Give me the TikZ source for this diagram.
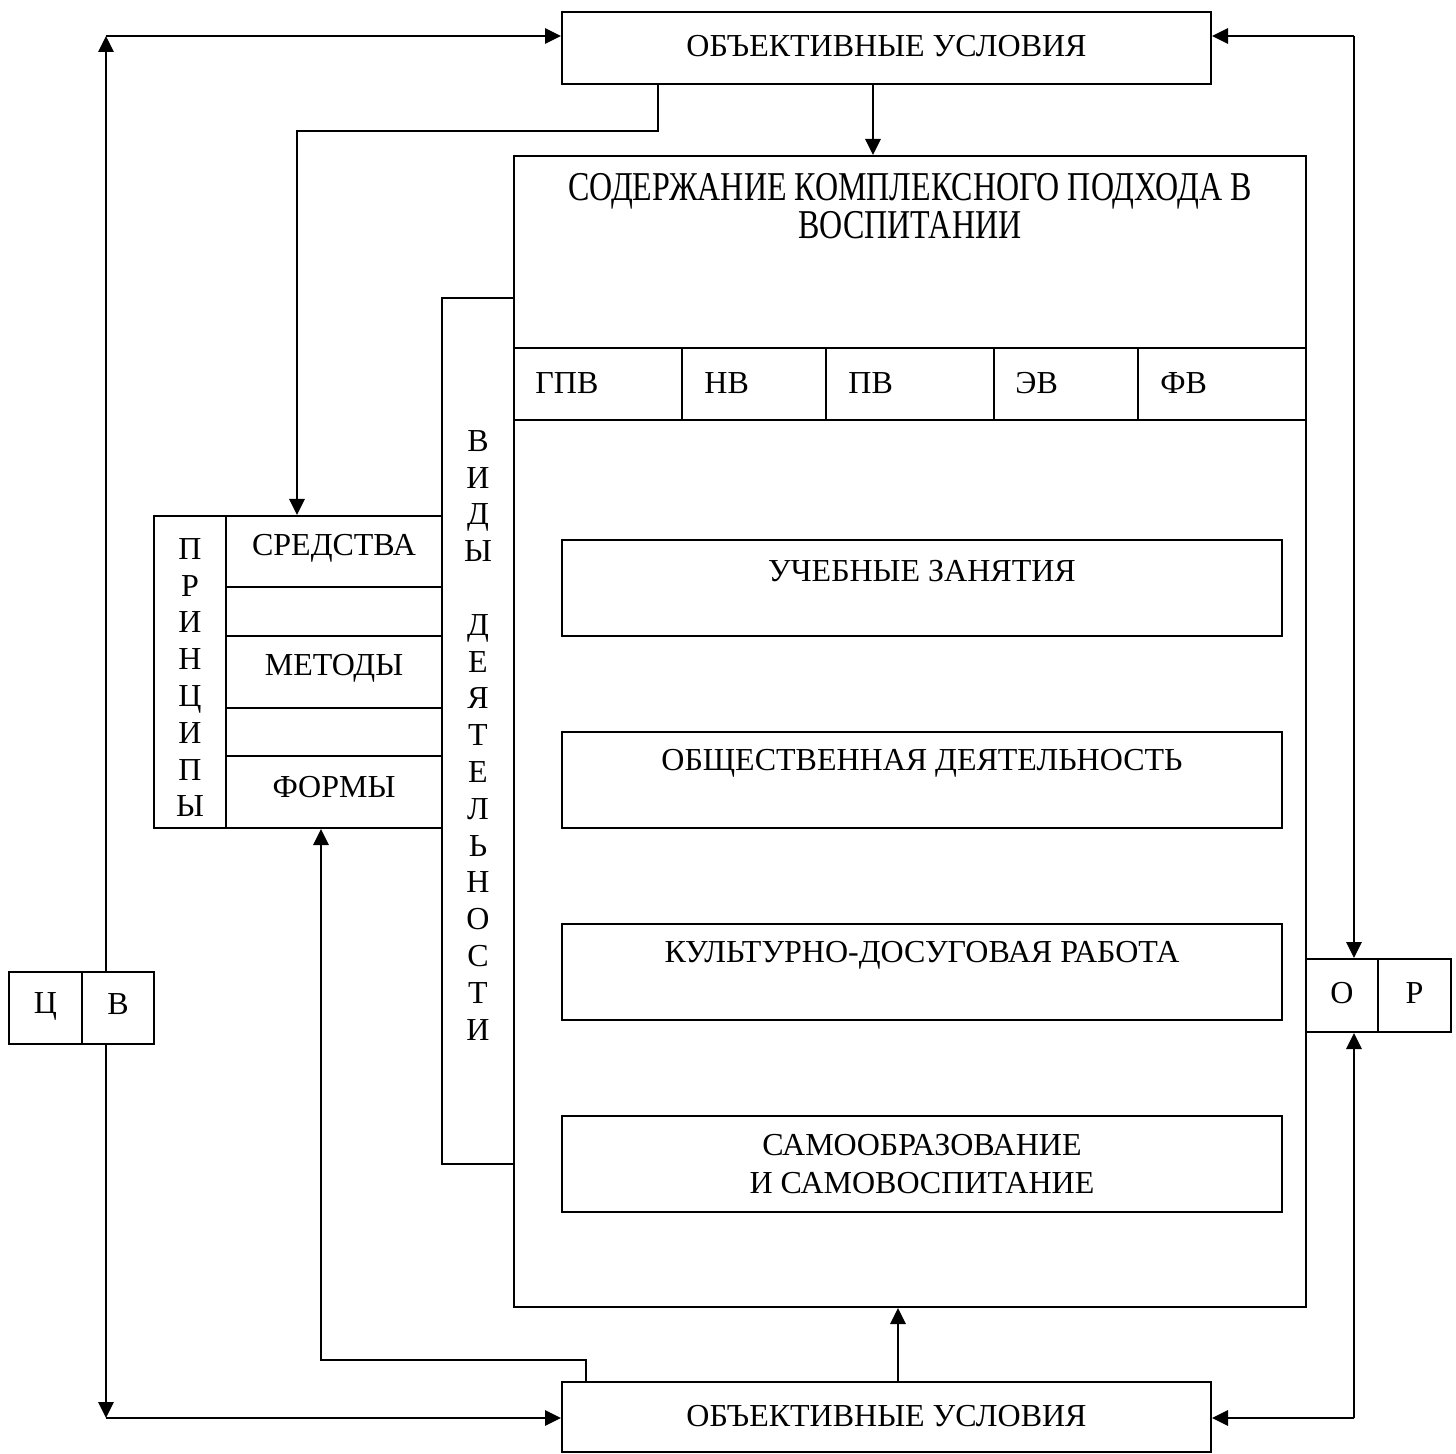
\documentclass[tikz,border=0pt]{standalone}
\usepackage{fontspec}
\usepackage{graphicx}
\setmainfont{Liberation Serif}
\usetikzlibrary{arrows.meta}
\begin{document}
\begin{tikzpicture}[x=0.5pt,y=-0.5pt,
  box/.style={draw,line width=1pt,inner sep=0pt,rectangle},
  txt/.style={inner sep=0pt,font=\fontsize{16}{19}\selectfont},
  vtxt/.style={inner sep=0pt,align=center,anchor=north,font=\fontsize{16}{18.4}\selectfont},
  arr/.style={line width=1.4pt,-{Triangle[length=8pt,width=7.5pt]}}]
\useasboundingbox (0,0) rectangle (1456,1454);

% main boxes
\node[box,minimum width=324.5pt,minimum height=36pt] (top) at (886.5,48) {};
\node[txt] (topt) at (886.5,46) {ОБЪЕКТИВНЫЕ УСЛОВИЯ};
\node[box,minimum width=324.5pt,minimum height=35pt] (bot) at (886.5,1417) {};
\node[txt] (bott) at (886.5,1416) {ОБЪЕКТИВНЫЕ УСЛОВИЯ};

\node[box,minimum width=396pt,minimum height=575.5pt] (big) at (910,731.5) {};
\node[txt] (bigt) at (910,206) {\scalebox{1}[1.28]{\begin{minipage}{370pt}\centering\fontsize{16}{13.7}\selectfont СОДЕРЖАНИЕ КОМПЛЕКСНОГО ПОДХОДА В\\ВОСПИТАНИИ\end{minipage}}};

% row of cells
\node[box,minimum width=84pt,minimum height=36pt] (c1) at (598,384) {};
\node[box,minimum width=72pt,minimum height=36pt] (c2) at (754,384) {};
\node[box,minimum width=84pt,minimum height=36pt] (c3) at (910,384) {};
\node[box,minimum width=72pt,minimum height=36pt] (c4) at (1066,384) {};
\node[box,minimum width=84pt,minimum height=36pt] (c5) at (1222,384) {};
\node[txt,anchor=west] (c1t) at (535,383) {ГПВ};
\node[txt,anchor=west] (c2t) at (704,383) {НВ};
\node[txt,anchor=west] (c3t) at (848,383) {ПВ};
\node[txt,anchor=west] (c4t) at (1015,383) {ЭВ};
\node[txt,anchor=west] (c5t) at (1160,383) {ФВ};

% inner boxes
\node[box,minimum width=360pt,minimum height=48pt] (b1) at (922,588) {};
\node[txt] (b1t) at (922,571) {УЧЕБНЫЕ ЗАНЯТИЯ};
\node[box,minimum width=360pt,minimum height=48pt] (b2) at (922,780) {};
\node[txt] (b2t) at (922,763) {ОБЩЕСТВЕННАЯ ДЕЯТЕЛЬНОСТЬ};
\node[box,minimum width=360pt,minimum height=48pt] (b3) at (922,972) {};
\node[txt] (b3t) at (922,955) {КУЛЬТУРНО-ДОСУГОВАЯ РАБОТА};
\node[box,minimum width=360pt,minimum height=48pt] (b4) at (922,1164) {};
\node[txt,align=center] (b4t) at (922,1164) {САМООБРАЗОВАНИЕ\\И САМОВОСПИТАНИЕ};

% types of activity
\node[box,minimum width=36pt,minimum height=433pt] (vid) at (478,731) {};
\node[vtxt] (vidt) at (478,430) {В\\И\\Д\\Ы\\\mbox{}\\Д\\Е\\Я\\Т\\Е\\Л\\Ь\\Н\\О\\С\\Т\\И};

% principles block
\node[box,minimum width=36pt,minimum height=156pt] (pr) at (190,672) {};
\node[vtxt] (prt) at (190,538) {П\\Р\\И\\Н\\Ц\\И\\П\\Ы};
\node[box,minimum width=108pt,minimum height=35.5pt] (sred) at (334,551.5) {};
\node[txt] (sredt) at (334,548) {СРЕДСТВА};
\node[box,minimum width=108pt,minimum height=24.5pt] (g1) at (334,611.5) {};
\node[box,minimum width=108pt,minimum height=36pt] (met) at (334,672) {};
\node[txt] (mett) at (334,668) {МЕТОДЫ};
\node[box,minimum width=108pt,minimum height=24pt] (g2) at (334,732) {};
\node[box,minimum width=108pt,minimum height=36pt] (form) at (334,792) {};
\node[txt] (formt) at (334,787) {ФОРМЫ};

% Ц В
\node[box,minimum width=36.5pt,minimum height=36pt] (cvC) at (45.5,1008) {};
\node[txt] (cvCt) at (45.5,1006) {Ц};
\node[box,minimum width=36pt,minimum height=36pt] (cvB) at (118,1008) {};
\node[txt] (cvBt) at (118,1004) {В};

% О Р
\node[box,minimum width=36pt,minimum height=36.5pt] (opO) at (1342,995.5) {};
\node[txt] (opOt) at (1342,993) {О};
\node[box,minimum width=36.5pt,minimum height=36.5pt] (opP) at (1414.5,995.5) {};
\node[txt] (opPt) at (1414.5,993) {Р};

% connectors
\coordinate (tl) at (106,36);
\coordinate (tr) at (1354,36);
\coordinate (bl) at (106,1418);
\coordinate (br) at (1354,1418);
\draw[arr] (tl |- cvB.north) -- (tl);
\draw[arr] (tl) -- (tl -| top.west);
\draw[arr] (tr) -- (tr -| top.east);
\draw[arr] (tr) -- (tr |- opO.north);
\draw[arr] (bl |- cvB.south) -- (bl);
\draw[arr] (bl) -- (bl -| bot.west);
\draw[arr] (br) -- (br -| bot.east);
\draw[arr] (br) -- (br |- opO.south);

\coordinate (xa) at (873,0);
\draw[arr] (xa |- top.south) -- (xa |- big.north);
\coordinate (xb) at (898,0);
\draw[arr] (xb |- bot.north) -- (xb |- big.south);

\coordinate (ka) at (658,131);
\coordinate (kb) at (297,131);
\draw[arr] (ka |- top.south) -- (ka) -- (kb) -- (kb |- sred.north);

\coordinate (kc) at (586,1360);
\coordinate (kd) at (321,1360);
\draw[arr] (kc |- bot.north) -- (kc) -- (kd) -- (kd |- form.south);
\end{tikzpicture}
\end{document}
